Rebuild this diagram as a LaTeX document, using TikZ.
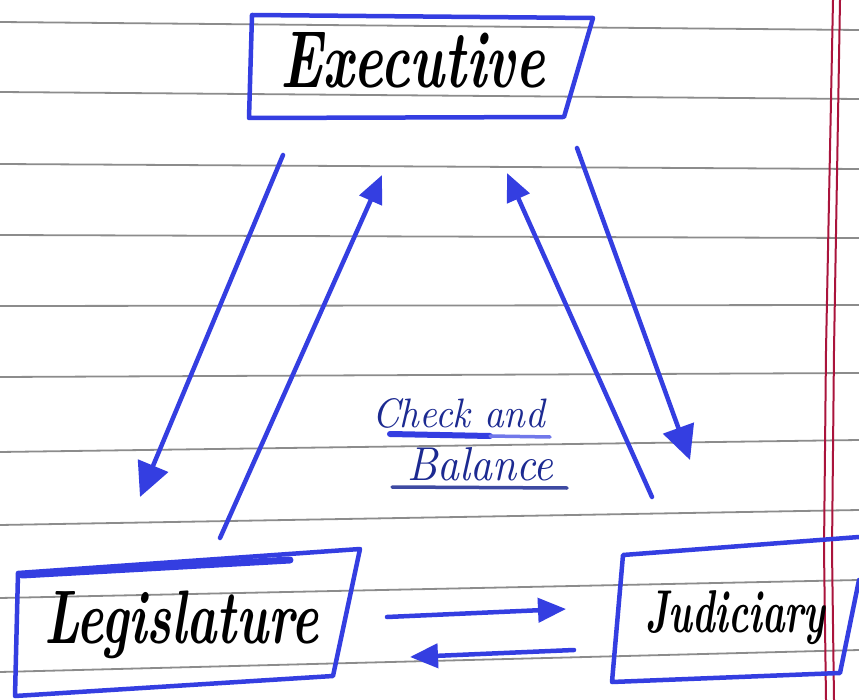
\documentclass[tikz,border=0pt]{standalone}
\usetikzlibrary{arrows.meta}
\usepackage{graphicx}
\definecolor{ink}{RGB}{52,62,225}
\definecolor{navy}{RGB}{28,42,145}
\definecolor{rulegray}{RGB}{140,140,140}
\definecolor{marginred}{RGB}{170,20,60}
\begin{document}
\begin{tikzpicture}[x=1pt,y=-1pt,
  pen/.style={draw=ink, line width=4.5pt, line cap=round, line join=round},
  arr/.style={pen, -{Triangle[length=34pt,width=32pt]}},
  smallarr/.style={pen, -{Triangle[length=28pt,width=24pt]}},
  ruled/.style={draw=rulegray, line width=1.8pt},
  margin/.style={draw=marginred, line width=2pt},
  hand/.style={anchor=base west, inner sep=0pt, text=black},
  note/.style={anchor=base west, inner sep=0pt, text=navy}]
\useasboundingbox (0,0) rectangle (859,700);
\fill[white] (0,0) rectangle (859,700);
% ruled paper
\foreach \l/\r in {22/30, 92/99, 164/169, 235/238, 306/305, 377/373, 452/440, 525/510, 598/580, 672/650}
  \draw[ruled] (0,\l) -- (859,\r);
\draw[margin] (833,0) -- (826,350) -- (824,550) -- (826,700);
\draw[margin] (840,0) -- (834,350) -- (832,550) -- (834,700);
% boxes
\draw[pen] (252,15) -- (593,18) -- (564,117) -- (249,118) -- cycle;
\draw[pen] (18,573) -- (360,549) -- (333,676) -- (15,696) -- cycle;
\draw[pen, line width=7pt] (22,575) -- (290,560);
\draw[pen] (859,580) -- (840,673) -- (612,682) -- (623,555) -- (859,537);
% labels
\node[hand] (exec) at (280,88) {\resizebox{265pt}{55pt}{\bfseries\itshape Executive}};
\node[hand] (legis) at (44,643) {\resizebox*{274pt}{68pt}{\bfseries\itshape Legislature}};
\node[hand] (judic) at (645,632) {\resizebox{180pt}{42pt}{\bfseries\itshape Judiciary}};
\node[note] (check) at (372,427) {\resizebox{173pt}{29pt}{\itshape Check and}};
\node[note] (bal) at (407,480) {\resizebox{146pt}{33pt}{\itshape Balance}};
\draw[pen, line width=6pt] (390,434) -- (490,436);
\draw[draw=ink!70, line width=3.5pt, line cap=round] (490,436) -- (550,437);
\draw[draw=navy!85, line width=3.5pt, line cap=round] (392,487) -- (567,488);
% connector end points
\coordinate (e2ls) at (283,155); \coordinate (e2lt) at (140,497);
\coordinate (l2es) at (220,538); \coordinate (l2et) at (382,175);
\coordinate (e2js) at (577,148); \coordinate (e2jt) at (690,460);
\coordinate (j2es) at (652,497); \coordinate (j2et) at (507,173);
\coordinate (l2js) at (387,617); \coordinate (l2jt) at (566,609);
\coordinate (j2ls) at (574,650); \coordinate (j2lt) at (410,657);
% connectors
\draw[arr] (e2ls) -- (e2lt);
\draw[smallarr] (l2es) -- (l2et);
\draw[arr] (e2js) -- (e2jt);
\draw[smallarr] (j2es) -- (j2et);
\draw[smallarr] (l2js) -- (l2jt);
\draw[smallarr] (j2ls) -- (j2lt);
\end{tikzpicture}
\end{document}
